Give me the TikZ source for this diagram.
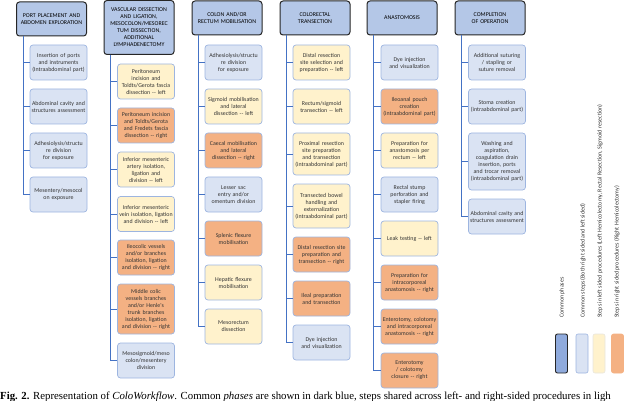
\documentclass[tikz,border=0pt]{standalone}
\usepackage{fontspec}
\usepackage[none]{hyphenat}
\setmainfont{Liberation Serif}
\newfontfamily\boxfont{Carlito}
\begin{document}
\definecolor{hdr}{HTML}{B4C7E7}
\definecolor{hdrsw}{HTML}{8FAADC}
\definecolor{com}{HTML}{DAE3F3}
\definecolor{comb}{HTML}{9DB5E0}
\definecolor{lft}{HTML}{FFF2CC}
\definecolor{rgt}{HTML}{F4B183}
\definecolor{ln}{HTML}{4472C4}
\begin{tikzpicture}[x=1pt,y=-1pt,
  hd/.style={draw=black!85,line width=1pt,fill=hdr,rounded corners=3pt,minimum width=70pt,text width=66pt,align=center,font=\boxfont\fontsize{5.9}{7}\selectfont,inner sep=1pt},
  st/.style={draw=comb,line width=0.7pt,rounded corners=3pt,minimum width=57pt,text width=54pt,minimum height=35pt,align=center,font=\boxfont\fontsize{5.9}{7}\selectfont,inner sep=1pt,text=black!80},
  c/.style={st,fill=com},l/.style={st,fill=lft},r/.style={st,fill=rgt},
  cn/.style={draw=ln,line width=0.8pt},
  lg/.style={rotate=90,anchor=west,font=\boxfont\fontsize{6}{7}\selectfont,text=black!80,inner sep=0pt},
  sw/.style={draw=comb,rounded corners=2pt,minimum width=12pt,minimum height=39pt,line width=0.6pt}]
\useasboundingbox (0,0) rectangle (640,401);
% column 1
\node[hd,minimum height=34pt] (h1) at (51.5,19) {PORT PLACEMENT AND ABDOMEN EXPLORATION};
\node[c] (a1) at (58.5,62.5) {Insertion of ports and instruments (Intraabdominal part)};
\node[c] (a2) at (58.5,106.5) {Abdominal cavity and structures assessment};
\node[c] (a3) at (58.5,150.5) {Adhesiolysis/structu re division for exposure};
\node[c] (a4) at (58.5,194.5) {Mesentery/mesocol on exposure};
\foreach \n in {a1,a2,a3,a4} \draw[cn] ([xshift=7pt]h1.south west) |- (\n.west);
% column 2
\node[hd,minimum height=54pt] (h2) at (139,27.5) {VASCULAR DISSECTION AND LIGATION, MESOCOLON/MESOREC TUM DISSECTION, ADDITIONAL LYMPHADENECTOMY};
\node[l] (b1) at (146,81.5) {Peritoneum incision and Toldts/Gerota fascia dissection -- left};
\node[r] (b2) at (146,125.5) {Peritoneum incision and Toldts/Gerota and Fredets fascia dissection -- right};
\node[l] (b3) at (146,169.5) {Inferior mesenteric artery isolation, ligation and division -- left};
\node[l] (b4) at (146,214) {Inferior mesenteric vein isolation, ligation and division -- left};
\node[r] (b5) at (146,257.5) {Ileocolic vessels and/or branches isolation, ligation and division -- right};
\node[r,minimum height=50pt] (b6) at (146,309) {Middle colic vessels branches and/or Henle's trunk branches isolation, ligation and division -- right};
\node[c] (b7) at (146,360.5) {Mesosigmoid/meso colon/mesentery division};
\foreach \n in {b1,b2,b3,b4,b5,b6,b7} \draw[cn] ([xshift=7pt]h2.south west) |- (\n.west);
% column 3
\node[hd,minimum height=34pt] (h3) at (227,18) {COLON AND/OR RECTUM MOBILISATION};
\node[c] (d1) at (233.5,62.5) {Adhesiolysis/structu re division for exposure};
\node[l] (d2) at (233.5,106.5) {Sigmoid mobilisation and lateral dissection -- left};
\node[r] (d3) at (233.5,150.5) {Caecal mobilisation and lateral dissection -- right};
\node[c] (d4) at (233.5,194.5) {Lesser sac entry and/or omentum division};
\node[r] (d5) at (233.5,238.5) {Splenic flexure mobilisation};
\node[l] (d6) at (233.5,282.5) {Hepatic flexure mobilisation};
\node[l] (d7) at (233.5,326.5) {Mesorectum dissection};
\foreach \n in {d1,d2,d3,d4,d5,d6,d7} \draw[cn] ([xshift=7pt]h3.south west) |- (\n.west);
% column 4
\node[hd,minimum height=34pt] (h4) at (315,18) {COLORECTAL TRANSECTION};
\node[l] (e1) at (321.5,62.5) {Distal resection site selection and preparation -- left};
\node[l] (e2) at (321.5,106.5) {Rectum/sigmoid transection -- left};
\node[l,minimum height=42pt] (e3) at (321.5,154) {Proximal resection site preparation and transection (intraabdominal part)};
\node[l,minimum height=44pt] (e4) at (321.5,206) {Transected bowel handling and externalization (intraabdominal part)};
\node[r] (e5) at (321.5,254.5) {Distal resection site preparation and transection -- right};
\node[r] (e6) at (321.5,298.5) {Ileal preparation and transection};
\node[c] (e7) at (321.5,342.5) {Dye injection and visualization};
\foreach \n in {e1,e2,e3,e4,e5,e6,e7} \draw[cn] ([xshift=7pt]h4.south west) |- (\n.west);
% column 5
\node[hd,minimum height=34pt] (h5) at (402,18) {ANASTOMOSIS};
\node[c] (f1) at (409.5,62.5) {Dye injection and visualization};
\node[r] (f2) at (409.5,106.5) {Ileoanal pouch creation (intraabdominal part)};
\node[l] (f3) at (409.5,150.5) {Preparation for anastomosis per rectum -- left};
\node[c] (f4) at (409.5,194.5) {Rectal stump perforation and stapler firing};
\node[l] (f5) at (409.5,238.5) {Leak testing -- left};
\node[r] (f6) at (409.5,282.5) {Preparation for intracorporeal anastomosis -- right};
\node[r] (f7) at (409.5,326.5) {Enterotomy, colotomy and intracorporeal anastomosis -- right};
\node[r] (f8) at (409.5,370.5) {Enterotomy / colotomy closure -- right};
\foreach \n in {f1,f2,f3,f4,f5,f6,f7,f8} \draw[cn] ([xshift=7pt]h5.south west) |- (\n.west);
% column 6
\node[hd,minimum height=34pt] (h6) at (490,18) {COMPLETION OF OPERATION};
\node[c] (g1) at (497,62.5) {Additional suturing / stapling or suture removal};
\node[c] (g2) at (497,106.5) {Stoma creation (intraabdominal part)};
\node[c,minimum height=57pt] (g3) at (497,161.5) {Washing and aspiration, coagulation drain insertion, ports and trocar removal (intraabdominal part)};
\node[c] (g4) at (497,216.5) {Abdominal cavity and structures assessment};
\foreach \n in {g1,g2,g3,g4} \draw[cn] ([xshift=7pt]h6.south west) |- (\n.west);
% legend
\node[sw,fill=hdrsw,draw=black!85,line width=0.9pt] (s1) at (561.5,353.5) {};
\node[sw,fill=com] (s2) at (582,353.5) {};
\node[sw,fill=lft,draw=lft!70!black!30] (s3) at (599,353.5) {};
\node[sw,fill=rgt,draw=rgt] (s4) at (617.5,353.5) {};
\node[lg] (t1) at (562,318) {Common phases};
\node[lg] (t2) at (583,318) {Common steps (Both right sided and left sided)};
\node[lg] (t3) at (600,318) {Steps in left sided procedures (Left Hemicolectomy, Rectal Resection, Sigmoid resection)};
\node[lg] (t4) at (617,318) {Steps in right sided procedures (Right Hemicolectomy)};
% caption
\node[anchor=west,font=\fontsize{10.8}{12}\selectfont,inner sep=0pt] (cap) at (0,397) {\textbf{Fig. 2.} Representation of \textit{ColoWorkflow}. Common \textit{phases} are shown in dark blue, steps shared across left- and right-sided procedures in ligh};
\end{tikzpicture}
\end{document}
